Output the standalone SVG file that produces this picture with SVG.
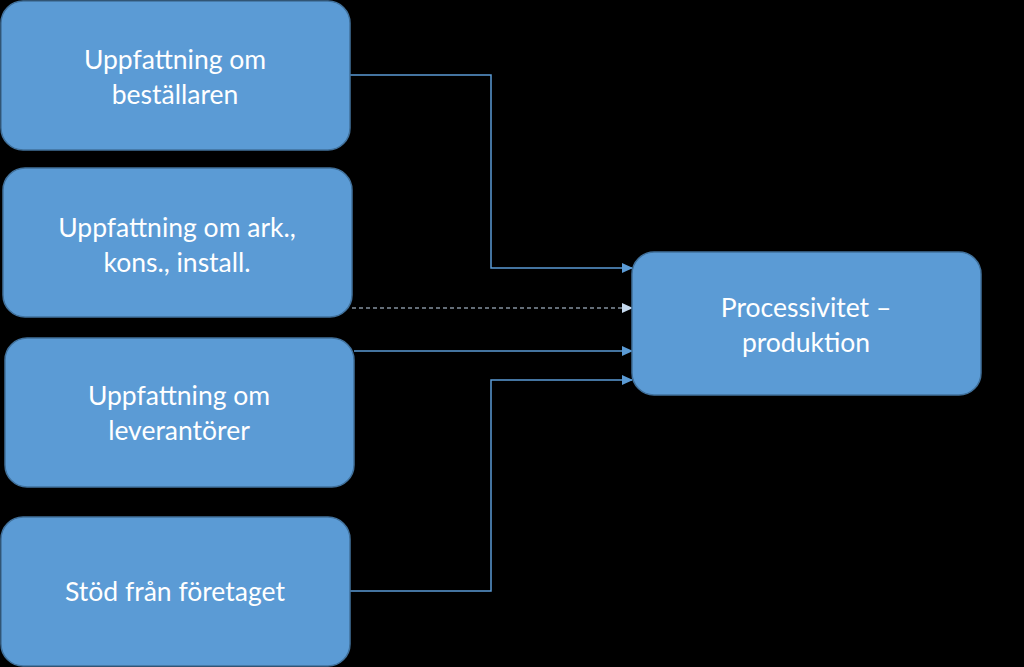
<svg xmlns="http://www.w3.org/2000/svg" width="1024" height="667" viewBox="0 0 1024 667">
<style>
.box{fill:#5b9bd5;stroke:#41719c;stroke-width:1.5}
.t{font-family:Lato,"Open Sans","Liberation Sans",sans-serif;font-size:26.5px;fill:#fff;text-anchor:middle}
.c{fill:none;stroke:#5b9bd5;stroke-width:1.5}
.d{fill:none;stroke:#c5d9ee;stroke-width:1.2;stroke-dasharray:4 3}
</style>
<defs>
<marker id="a" markerWidth="11" markerHeight="10" refX="10" refY="5" orient="auto" markerUnits="userSpaceOnUse"><path d="M0,0 L11,5 L0,10 Z" fill="#5b9bd5"/></marker>
<marker id="ad" markerWidth="11" markerHeight="10" refX="10" refY="5" orient="auto" markerUnits="userSpaceOnUse"><path d="M0,0 L11,5 L0,10 Z" fill="#c5d9ee"/></marker>
</defs>
<rect width="1024" height="667" fill="#000"/>
<g id="connectors">
<path class="c" d="M350,75 H491 V268 H632" marker-end="url(#a)"/>
<path class="d" d="M352,308 H632" marker-end="url(#ad)"/>
<path class="c" d="M354,351 H632" marker-end="url(#a)"/>
<path class="c" d="M350,591 H491 V380 H632" marker-end="url(#a)"/>
</g>
<g id="n1"><rect class="box" x="1" y="1" width="349" height="149" rx="22"/><text class="t" x="175" y="69">Uppfattning om</text><text class="t" x="175" y="104">beställaren</text></g>
<g id="n2"><rect class="box" x="3" y="168" width="349" height="149" rx="22"/><text class="t" x="177" y="237">Uppfattning om ark.,</text><text class="t" x="177" y="272">kons., install.</text></g>
<g id="n3"><rect class="box" x="5" y="338" width="349" height="149" rx="22"/><text class="t" x="179" y="405">Uppfattning om</text><text class="t" x="179" y="440">leverantörer</text></g>
<g id="n4"><rect class="box" x="1" y="517" width="349" height="149" rx="22"/><text class="t" x="175" y="601">Stöd från företaget</text></g>
<g id="n5"><rect class="box" x="632" y="252" width="349" height="143" rx="22"/><text class="t" x="806" y="317">Processivitet –</text><text class="t" x="806" y="352">produktion</text></g>
</svg>
